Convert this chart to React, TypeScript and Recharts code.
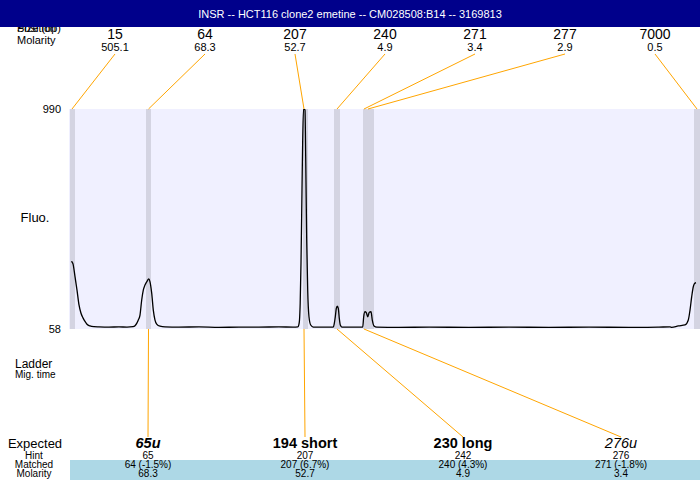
import React from 'react'
import { LineChart, Line, XAxis, YAxis, ReferenceArea, ReferenceLine } from 'recharts'

const title = 'INSR -- HCT116 clone2 emetine -- CM028508:B14 -- 3169813'

// Called peaks: size (bp), molarity and migration position
const peakSizes = [15, 64, 207, 240, 271, 277, 7000]
const peakMolarity = [505.1, 68.3, 52.7, 4.9, 3.4, 2.9, 0.5]
const peakPositions = [3, 79.5, 235, 268, 295, 299, 628]

// Integration windows (migration position)
const windowStart = [1, 77, 234, 265, 294, 625]
const windowEnd = [6, 82, 239, 271, 305, 631]

// Expected products and the peaks they were matched to
const expectedNames = ['65u', '194 short', '230 long', '276u']
const hintSizes = [65, 207, 242, 276]
const matchedLabels = ['64 (-1.5%)', '207 (6.7%)', '240 (4.3%)', '271 (-1.8%)']
const matchedMolarity = [68.3, 52.7, 4.9, 3.4]
const matchedPeakIndex = [1, 2, 3, 4]

// Fluorescence trace
const tracePosition = [
  2.5, 3, 4, 6, 8, 10, 12, 14, 16, 18, 21, 25, 30, 40, 50, 58,
  64, 66, 68, 69.3, 71, 72.7, 74.3, 76, 78.3, 79.7, 81, 82.7, 84.3, 86, 87.7, 91, 96,
  110, 130, 150, 170, 190, 210, 224,
  229, 229.8, 230.5, 231.2, 232, 233, 233.7, 234.5, 235.3, 236, 236.7, 237.7, 238.7, 240, 241.7, 244.3,
  252, 260, 264.3, 265.3, 266.3, 267.3, 268.3, 269.3, 270.3, 271.3, 273,
  285, 293.7, 294.7, 296, 297.3, 298.7, 300.3, 302, 303.3, 305, 307.7,
  330, 360, 400, 440, 480, 520, 560, 571, 590, 601, 602.7, 609.3, 616, 619.3, 621, 622.7, 624.3, 625.3, 627,
]
const traceFluo = [
  345, 342, 334, 280, 223, 160, 125, 105, 90, 78, 71, 68, 67, 66, 67, 66,
  68, 72, 84, 96, 117, 181, 223, 244, 262, 270, 258, 210, 138, 96, 79, 70, 67,
  66, 67, 65, 66, 66, 67, 66,
  67, 75, 96, 168, 338, 647, 859, 990, 990, 985, 786, 435, 223, 109, 75, 66,
  66, 66, 66, 82, 110, 145, 155, 145, 103, 75, 66,
  66, 66, 110, 131, 127, 110, 129, 131, 96, 71, 66,
  65, 66, 65, 66, 65, 66, 65, 65, 66, 67, 65, 71, 75, 96, 138, 195, 237, 249, 254,
]

const W = 700
const H = 480
const PLOT_LEFT = 69
const PLOT_TOP = 109
const PLOT_W = 631
const PLOT_H = 220
const X_DOMAIN: [number, number] = [0, 631]
const Y_DOMAIN: [number, number] = [58, 990]

// label anchors are laid out in pixels; convert them to data space for the connectors
const toDataX = (px: number) => X_DOMAIN[0] + ((px - PLOT_LEFT) / PLOT_W) * (X_DOMAIN[1] - X_DOMAIN[0])
const toDataY = (py: number) => Y_DOMAIN[0] + ((PLOT_TOP + PLOT_H - py) / PLOT_H) * (Y_DOMAIN[1] - Y_DOMAIN[0])

const topLabelX = (i: number) => 115 + 90 * i
const columnX = [148, 305, 463, 621]
const expectedStyle = [
  { fontWeight: 'bold', fontStyle: 'italic' },
  { fontWeight: 'bold', fontStyle: 'normal' },
  { fontWeight: 'bold', fontStyle: 'normal' },
  { fontWeight: 'normal', fontStyle: 'italic' },
]

const ORANGE = '#FFA500'
const FONT = '"Liberation Sans", Arial, sans-serif'

const traceData = tracePosition.map((x, i) => ({ x, fluo: traceFluo[i] }))

export default function App() {
  return (
    <div style={{ position: 'absolute', left: 0, top: 0, width: W, height: H, fontFamily: FONT, background: '#fff' }}>
      <LineChart
        width={W}
        height={H}
        data={traceData}
        margin={{ top: PLOT_TOP, right: 0, bottom: H - PLOT_TOP - PLOT_H, left: 0 }}
      >
        <XAxis dataKey="x" type="number" domain={X_DOMAIN} hide />
        <YAxis
          type="number"
          domain={Y_DOMAIN}
          ticks={[58, 990]}
          width={PLOT_LEFT}
          axisLine={false}
          tickLine={false}
          tick={{ fontSize: 11, fill: '#000' }}
          allowDataOverflow
        />
        <ReferenceArea x1={X_DOMAIN[0]} x2={X_DOMAIN[1]} y1={Y_DOMAIN[0]} y2={Y_DOMAIN[1]} fill="#F0F0FF" fillOpacity={1} stroke="none" />
        {windowStart.map((s, i) => (
          <ReferenceArea key={'w' + i} x1={s} x2={windowEnd[i]} y1={Y_DOMAIN[0]} y2={Y_DOMAIN[1]} fill="#D4D4E2" fillOpacity={1} stroke="none" />
        ))}
        <Line dataKey="fluo" type="monotone" stroke="#000" strokeWidth={1.3} dot={false} isAnimationActive={false} />
        {peakPositions.map((p, i) => (
          <ReferenceLine
            key={'t' + i}
            segment={[{ x: toDataX(topLabelX(i)), y: toDataY(54) }, { x: p, y: Y_DOMAIN[1] }]}
            stroke={ORANGE}
            strokeWidth={1}
            ifOverflow="visible"
          />
        ))}
        {matchedPeakIndex.map((pi, i) => (
          <ReferenceLine
            key={'b' + i}
            segment={[{ x: peakPositions[pi], y: Y_DOMAIN[0] }, { x: toDataX(columnX[i]), y: toDataY(437) }]}
            stroke={ORANGE}
            strokeWidth={1}
            ifOverflow="visible"
          />
        ))}
      </LineChart>

      <svg width={W} height={H} style={{ position: 'absolute', left: 0, top: 0, pointerEvents: 'none', fontFamily: FONT }}>
        {/* two header captions share one spot and sit partly under the title bar */}
        <text x={17} y={32} fontSize={11}>Position</text>
        <text x={17} y={32} fontSize={11}>Size (bp)</text>
        <rect x={0} y={0} width={W} height={27} fill="#00008B" />
        <text x={W / 2} y={18} fontSize={11} fill="#fff" textAnchor="middle">{title}</text>
        <text x={17} y={44} fontSize={11}>Molarity</text>
        {peakSizes.map((s, i) => (
          <g key={i}>
            <text x={topLabelX(i)} y={39} fontSize={14} textAnchor="middle">{s}</text>
            <text x={topLabelX(i)} y={51} fontSize={11} textAnchor="middle">{peakMolarity[i].toFixed(1)}</text>
          </g>
        ))}

        <text x={35} y={222} fontSize={13} textAnchor="middle">Fluo.</text>
        <text x={15} y={368} fontSize={12}>Ladder</text>
        <text x={15} y={378} fontSize={10}>Mig. time</text>

        <rect x={70} y={460} width={W - 70} height={20} fill="#ADD8E6" />
        <text x={35} y={448} fontSize={13} textAnchor="middle">Expected</text>
        <text x={34} y={459} fontSize={10} textAnchor="middle">Hint</text>
        <text x={34} y={468} fontSize={10} textAnchor="middle">Matched</text>
        <text x={34} y={477} fontSize={10} textAnchor="middle">Molarity</text>
        {expectedNames.map((name, i) => (
          <g key={name}>
            <text x={columnX[i]} y={448} fontSize={14.5} textAnchor="middle" {...expectedStyle[i]}>{name}</text>
            <text x={columnX[i]} y={459} fontSize={10} textAnchor="middle">{hintSizes[i]}</text>
            <text x={columnX[i]} y={468} fontSize={10} textAnchor="middle">{matchedLabels[i]}</text>
            <text x={columnX[i]} y={477} fontSize={10} textAnchor="middle">{matchedMolarity[i].toFixed(1)}</text>
          </g>
        ))}
      </svg>
    </div>
  )
}
